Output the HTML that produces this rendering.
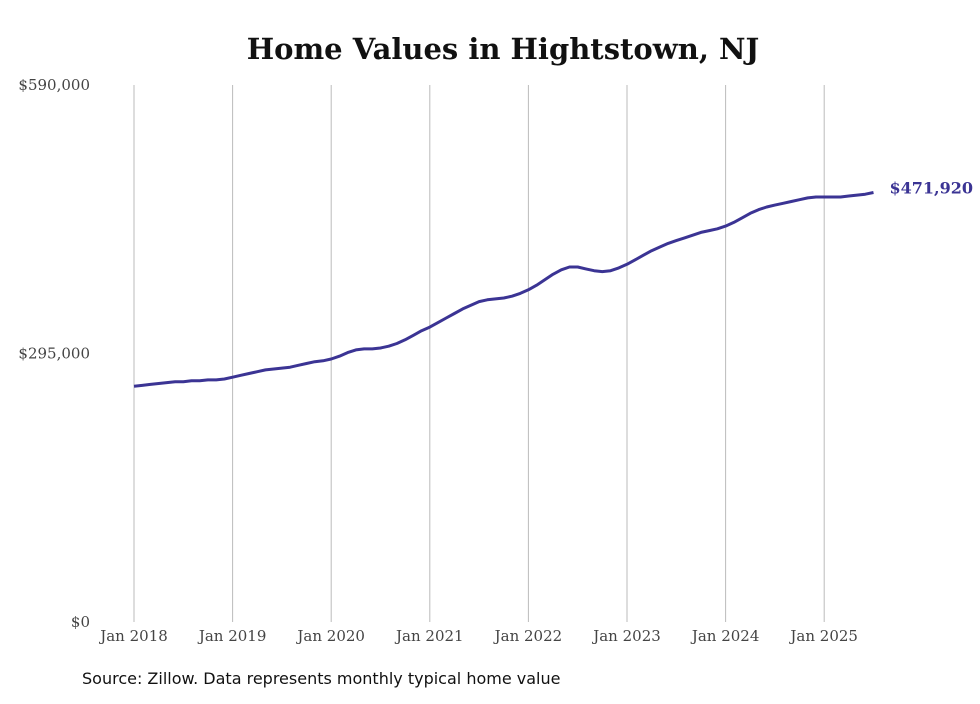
<!DOCTYPE html>
<html><head><meta charset="utf-8"><style>
body{margin:0;background:#fff;}
svg text{font-family:"DejaVu Serif","Liberation Serif",serif;}
</style></head><body>
<svg width="980" height="699" viewBox="0 0 980 699">
<text x="503" y="59" text-anchor="middle" font-size="29" font-weight="bold" fill="#111">Home Values in Hightstown, NJ</text>
<g id="grid"></g><g id="yticks"></g><g id="xticks"></g>
<path id="line" fill="none" stroke="#3b3494" stroke-width="3" stroke-linejoin="round"/>
<text id="endlabel" font-size="16" font-weight="bold" fill="#3b3494"></text>
<text x="82" y="684" font-size="16" fill="#111" style="font-family:'DejaVu Sans','Liberation Sans',sans-serif">Source: Zillow. Data represents monthly typical home value</text>
</svg>
<script>
const yearLabels=["Jan 2018","Jan 2019","Jan 2020","Jan 2021","Jan 2022","Jan 2023","Jan 2024","Jan 2025"];
const yTicks=[0,295000,590000];
const yTickLabels=["$0","$295,000","$590,000"];
const values=[259,260,261,262,263,264,264,265,265,266,266,267,
269,271,273,275,277,278,279,280,282,284,286,287,
289,292,296,299,300,300,301,303,306,310,315,320,
324,329,334,339,344,348,352,354,355,356,358,361,
365,370,376,382,387,390,390,388,386,385,386,389,
393,398,403,408,412,416,419,422,425,428,430,432,
435,439,444,449,453,456,458,460,462,464,466,467,
467,467,467,468,469,470,471.92].map(v=>v*1000);
const NS="http://www.w3.org/2000/svg";
const x0=134,perYear=98.6,yTop=85,yBot=622,yMax=590000;
const xs=i=>x0+i*perYear/12;
const ys=v=>yBot-(v/yMax)*(yBot-yTop);
const grid=document.getElementById('grid'),xt=document.getElementById('xticks'),yt=document.getElementById('yticks');
yearLabels.forEach((lab,k)=>{
 const x=xs(k*12);
 const l=document.createElementNS(NS,'line');
 
 
 l.setAttribute('x1',x);l.setAttribute('x2',x);l.setAttribute('y1',yTop);l.setAttribute('y2',yBot);
 l.setAttribute('stroke','#bbb');l.setAttribute('stroke-width','1');
 grid.appendChild(l);
 const t=document.createElementNS(NS,'text');
 
 
 t.setAttribute('x',x);t.setAttribute('y',641);t.setAttribute('text-anchor','middle');
 t.setAttribute('font-size','15');t.setAttribute('fill','#444');t.textContent=lab;
 xt.appendChild(t);
});
yTicks.forEach((v,k)=>{
 const t=document.createElementNS(NS,'text');
 
 
 t.setAttribute('x',90);t.setAttribute('y',ys(v)+5);t.setAttribute('text-anchor','end');
 t.setAttribute('font-size','15');t.setAttribute('fill','#444');t.textContent=yTickLabels[k];
 yt.appendChild(t);
});
let d='';
values.forEach((v,i)=>{d+=(i?'L':'M')+xs(i).toFixed(1)+','+ys(v).toFixed(1);});
document.getElementById('line').setAttribute('d',d);
const last=values.length-1,el=document.getElementById('endlabel');
el.setAttribute('x',xs(last)+16);el.setAttribute('y',ys(values[last])+1);
el.textContent='$'+Math.round(values[last]).toLocaleString('en-US');
</script>
</body></html>
